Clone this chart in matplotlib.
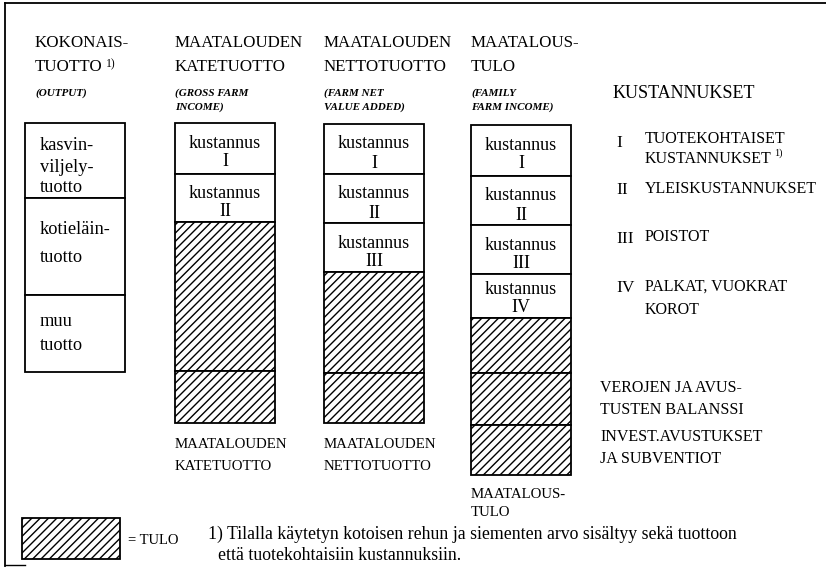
import matplotlib.pyplot as plt

# segment heights (diagram units, top to bottom)
output_parts = [75, 97, 77]
katetuotto_parts = [51, 48, 149, 52]
nettotuotto_parts = [50, 49, 49, 101, 50]
tulo_parts = [51, 49, 49, 44, 55, 52, 50]
cost_counts = [0, 2, 3, 4]

output_labels = [["kasvin-", "viljely-", "tuotto"], ["kotieläin-", "tuotto"], ["muu", "tuotto"]]
numerals = ["I", "II", "III", "IV"]

titles = [["KOKONAIS-", "TUOTTO"], ["MAATALOUDEN", "KATETUOTTO"],
          ["MAATALOUDEN", "NETTOTUOTTO"], ["MAATALOUS-", "TULO"]]
subtitles = [["(OUTPUT)"], ["(GROSS FARM", "INCOME)"],
             ["(FARM NET", "VALUE ADDED)"], ["(FAMILY", "FARM INCOME)"]]
bottom_labels = [None, ["MAATALOUDEN", "KATETUOTTO"],
                 ["MAATALOUDEN", "NETTOTUOTTO"], ["MAATALOUS-", "TULO"]]

cost_names = [["TUOTEKOHTAISET", "KUSTANNUKSET"], ["YLEISKUSTANNUKSET"],
              ["POISTOT"], ["PALKAT, VUOKRAT", "KOROT"]]
income_names = [["VEROJEN JA AVUS-", "TUSTEN BALANSSI"],
                ["INVEST.AVUSTUKSET", "JA SUBVENTIOT"]]
footnote = ["1) Tilalla käytetyn kotoisen rehun ja siementen arvo sisältyy sekä tuottoon",
            "että tuotekohtaisiin kustannuksiin."]

plt.rcParams['font.family'] = "Liberation Serif"
plt.rcParams['hatch.linewidth'] = 1.0

col_left = [25, 175, 324, 471]
col_top = [123, 123, 124, 125]
col_w = 100


def main():
    fig = plt.figure(figsize=(8.26, 5.85), dpi=100)
    ax = fig.add_axes([0, 0, 1, 1])
    ax.set_xlim(0, 826)
    ax.set_ylim(585, 0)
    ax.axis('off')

    # frame
    ax.plot([5, 826], [3, 3], color='black', lw=1.3)
    ax.plot([5, 5], [3, 566], color='black', lw=1.3)
    ax.plot([5, 25], [565, 565], color='black', lw=1.0)

    parts = [output_parts, katetuotto_parts, nettotuotto_parts, tulo_parts]
    for c, segs in enumerate(parts):
        x0 = col_left[c]
        y = col_top[c]
        for i, h in enumerate(segs):
            hatched = c > 0 and i >= cost_counts[c]
            ax.bar(x0, h, width=col_w, bottom=y, align='edge', facecolor='white',
                   edgecolor='black', linewidth=1.3, hatch='////' if hatched else None)
            if c == 0:
                offs = [[22, 44, 65], [32, 60], [27, 51]][i]
                for line, dy in zip(output_labels[i], offs):
                    ax.text(x0 + 15, y + dy, line, fontsize=13.2, va='center', ha='left')
            elif i < cost_counts[c]:
                cx = x0 + col_w / 2
                ax.text(cx, y + min(20, h - 29), "kustannus", fontsize=13,
                        va='center', ha='center')
                ax.text(cx, y + min(39, h - 10), numerals[i], fontsize=13,
                        va='center', ha='center')
            y += h

        # titles
        tx = col_left[c] + (10 if c == 0 else 0)
        for line, ty in zip(titles[c], [43, 67]):
            ax.text(tx, ty, line, fontsize=12.2, va='center', ha='left')
        for line, ty in zip(subtitles[c], [93, 107]):
            ax.text(tx, ty, line, fontsize=8, fontweight='bold', fontstyle='italic',
                    va='center', ha='left')
        if bottom_labels[c]:
            by = 445 if c < 3 else 494
            step = 21 if c < 3 else 18
            for k, line in enumerate(bottom_labels[c]):
                ax.text(col_left[c], by + k * step, line, fontsize=10.7,
                        va='center', ha='left')

    # superscript on first title
    ax.text(106, 64, "1)", fontsize=8.5, va='center', ha='left')

    # cost legend
    ax.text(613, 94, "KUSTANNUKSET", fontsize=13, va='center', ha='left')
    cost_y = [[139, 159], [189], [237], [287, 310]]
    num_y = [143, 190, 239, 288]
    for k in range(4):
        ax.text(616, num_y[k], numerals[k], fontsize=12.5, va='center', ha='left')
        for line, ly in zip(cost_names[k], cost_y[k]):
            ax.text(645, ly, line, fontsize=11.5, va='center', ha='left')
    ax.text(774, 153, "1)", fontsize=7.5, va='center', ha='left')

    for k, lines in enumerate(income_names):
        for j, line in enumerate(lines):
            ax.text(600, [388, 437][k] + j * 22, line, fontsize=11.5,
                    va='center', ha='left')

    # hatch legend
    ax.bar(22, 41, width=98, bottom=518, align='edge', facecolor='white',
           edgecolor='black', linewidth=1.3, hatch='////')
    ax.text(128, 540, "= TULO", fontsize=10.5, va='center', ha='left')

    ax.text(208, 534, footnote[0], fontsize=12.8, va='center', ha='left')
    ax.text(218, 556, footnote[1], fontsize=12.8, va='center', ha='left')

    fig.savefig("out.png", dpi=100)


if __name__ == '__main__':
    main()
